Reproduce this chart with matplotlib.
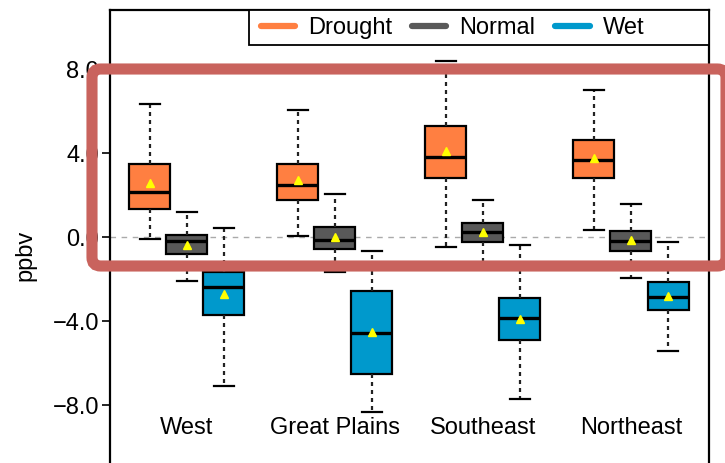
import matplotlib
matplotlib.use("Agg")
import matplotlib.pyplot as plt
from matplotlib.patches import FancyBboxPatch, Rectangle
from matplotlib.lines import Line2D

plt.rcParams['font.family'] = ['Liberation Sans', 'DejaVu Sans']

regions = ["West", "Great Plains", "Southeast", "Northeast"]
series = ["Drought", "Normal", "Wet"]
colors = ["#FF7F41", "#595959", "#0099CC"]

# per series: one value per region
whislo = {
    "Drought": [-0.08, 0.05, -0.45, 0.35],
    "Normal":  [-2.08, -1.67, -1.35, -1.95],
    "Wet":     [-7.07, -8.30, -7.71, -5.41],
}
q1 = {
    "Drought": [1.35, 1.78, 2.81, 2.84],
    "Normal":  [-0.81, -0.57, -0.21, -0.64],
    "Wet":     [-3.70, -6.51, -4.89, -3.46],
}
med = {
    "Drought": [2.16, 2.49, 3.81, 3.68],
    "Normal":  [-0.18, -0.13, 0.24, -0.16],
    "Wet":     [-2.37, -4.57, -3.86, -2.83],
}
q3 = {
    "Drought": [3.48, 3.49, 5.30, 4.63],
    "Normal":  [0.11, 0.50, 0.67, 0.31],
    "Wet":     [-1.65, -2.56, -2.90, -2.11],
}
whishi = {
    "Drought": [6.35, 6.05, 8.41, 7.01],
    "Normal":  [1.20, 2.06, 1.78, 1.57],
    "Wet":     [0.46, -0.65, -0.37, -0.24],
}
mean = {
    "Drought": [2.57, 2.73, 4.11, 3.76],
    "Normal":  [-0.37, 0.00, 0.27, -0.14],
    "Wet":     [-2.70, -4.50, -3.90, -2.80],
}
yticks = [-8.0, -4.0, 0.0, 4.0, 8.0]

W, H = 725, 463
fig = plt.figure(figsize=(W / 100, H / 100), dpi=100)
ax_l, ax_r, ax_t = 110, 709, 9.5
ax = fig.add_axes([ax_l / W, 0.0, (ax_r - ax_l) / W, 1 - ax_t / H])

offset = 0.25
bw = 0.277
for j, s in enumerate(series):
    stats = []
    for i in range(len(regions)):
        stats.append(dict(med=med[s][i], q1=q1[s][i], q3=q3[s][i],
                          whislo=whislo[s][i], whishi=whishi[s][i],
                          mean=mean[s][i], fliers=[]))
    pos = [i + (j - 1) * offset for i in range(len(regions))]
    ax.bxp(stats, positions=pos, widths=bw, patch_artist=True,
           showmeans=True, showfliers=False, capwidths=bw * 0.5,
           boxprops=dict(facecolor=colors[j], edgecolor="black", linewidth=1.6),
           medianprops=dict(color="black", linewidth=2.4),
           whiskerprops=dict(color="#222222", linewidth=1.6, linestyle=(0, (1.8, 1.8))),
           capprops=dict(color="black", linewidth=1.6),
           meanprops=dict(marker="^", markerfacecolor="#FFFF00",
                          markeredgecolor="#FFFF00", markersize=6),
           manage_ticks=False, zorder=3)

ax.axhline(0, color="#aaaaaa", linestyle=(0, (4, 4)), linewidth=1.0, zorder=1)

ax.set_xlim(-0.52, 3.527)
ax.set_ylim(-10.75, 10.85)
ax.set_yticks(yticks)
ax.set_yticklabels([f"{v:.1f}".replace("-", "\u2212") for v in yticks])
ax.set_xticks([])
ax.tick_params(axis="y", direction="out", length=6, width=1.2, pad=2, labelsize=17)
ax.spines["bottom"].set_visible(False)
for sp in ["left", "right", "top"]:
    ax.spines[sp].set_linewidth(1.6)

for i, r in enumerate(regions):
    ax.text(i, -9.08, r, ha="center", va="center", fontsize=17)

fig.text(25 / W, 1 - 255 / H, "ppbv", rotation=90, ha="center", va="center", fontsize=17)

# legend: entries without frame, frame drawn separately to match the wide box
fx0, fy0, fx1, fy1 = 249, 9.5, 709, 45
handles = [Line2D([], [], color=c, linewidth=4.5, solid_capstyle="round") for c in colors]
leg = ax.legend(handles, series, loc="center left",
                bbox_to_anchor=((256 - ax_l) / (ax_r - ax_l),
                                1 - ((fy0 + fy1) / 2 + 1 - ax_t) / (H - ax_t)),
                ncol=3, frameon=False, borderaxespad=0,
                fontsize=17, handlelength=1.45, columnspacing=0.85,
                handletextpad=0.55, borderpad=0.2)
ax.add_patch(Rectangle(((fx0 - ax_l) / (ax_r - ax_l), 1 - (fy1 - ax_t) / (H - ax_t)),
                       (fx1 - fx0) / (ax_r - ax_l), (fy1 - fy0) / (H - ax_t),
                       transform=ax.transAxes, fill=True, facecolor="white",
                       edgecolor="black", linewidth=1.3, zorder=4, clip_on=False))
leg.set_zorder(5)

# red highlight rectangle overlay
rx0, ry0, rx1, ry1 = 92, 69, 726, 266
rect = FancyBboxPatch((rx0 / W, 1 - ry1 / H), (rx1 - rx0) / W, (ry1 - ry0) / H,
                      boxstyle="round,pad=0,rounding_size=0.012",
                      transform=fig.transFigure, fill=False,
                      edgecolor="#C9635D", linewidth=8, zorder=10,
                      mutation_aspect=W / H)
fig.patches.append(rect)

fig.savefig("out.png", dpi=100)
